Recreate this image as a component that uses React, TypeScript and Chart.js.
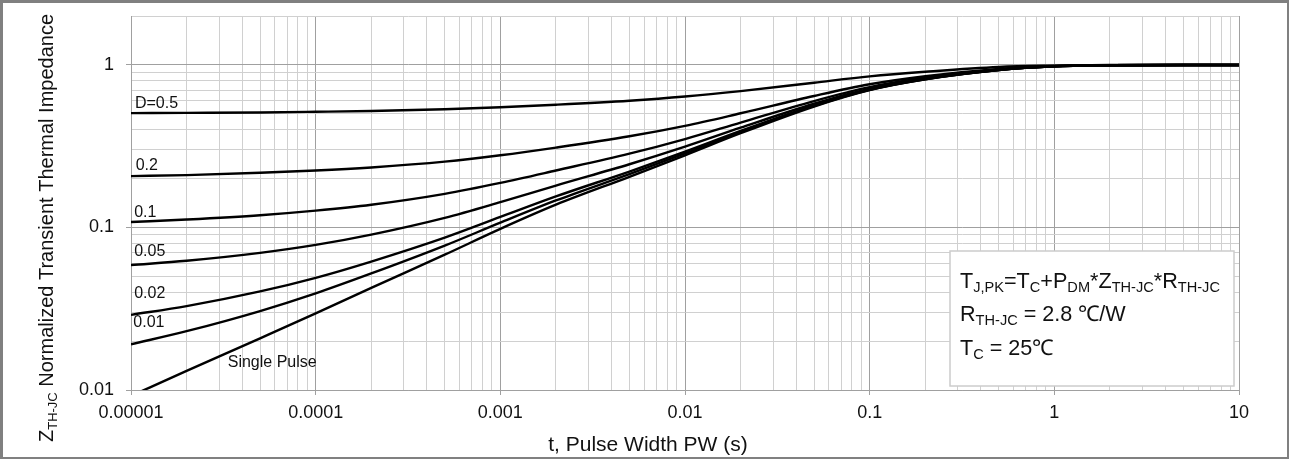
import React, { useEffect, useRef } from "react";
import { Chart, registerables } from "chart.js";

Chart.register(...registerables);

// ---- data ----
const pulseWidth = [1e-5, 2e-5, 5e-5, 1e-4, 2e-4, 5e-4, 1e-3, 2e-3, 5e-3, 1e-2, 2e-2, 5e-2, 0.1, 0.2, 0.5, 1, 2, 5, 10];
const zD050 = [0.505, 0.507, 0.51, 0.515, 0.521, 0.534, 0.549, 0.569, 0.6025, 0.639, 0.69, 0.7775, 0.85, 0.9075, 0.972, 0.99, 0.998, 1.0, 1.0];
const zD020 = [0.207, 0.21, 0.217, 0.224, 0.234, 0.254, 0.278, 0.31, 0.364, 0.422, 0.504, 0.644, 0.76, 0.852, 0.944, 0.984, 0.996, 1.0, 1.0];
const zD010 = [0.108, 0.112, 0.119, 0.127, 0.138, 0.161, 0.188, 0.224, 0.2845, 0.35, 0.442, 0.5995, 0.73, 0.8335, 0.937, 0.982, 0.996, 1.0, 1.0];
const zD005 = [0.0587, 0.0624, 0.0698, 0.0781, 0.0904, 0.1146, 0.1431, 0.1811, 0.2448, 0.3141, 0.411, 0.577, 0.715, 0.824, 0.934, 0.981, 0.995, 1.0, 1.0];
const zD002 = [0.029, 0.0328, 0.0404, 0.049, 0.0617, 0.0866, 0.116, 0.1552, 0.2209, 0.2924, 0.3924, 0.564, 0.706, 0.819, 0.931, 0.98, 0.995, 1.0, 1.0];
const zD001 = [0.0191, 0.023, 0.0306, 0.0393, 0.0521, 0.0773, 0.107, 0.1466, 0.213, 0.2852, 0.3862, 0.559, 0.703, 0.817, 0.93, 0.98, 0.995, 1.0, 1.0];
const zSingle = [0.0092, 0.0131, 0.0208, 0.0296, 0.0425, 0.068, 0.098, 0.138, 0.205, 0.278, 0.38, 0.555, 0.7, 0.815, 0.93, 0.98, 0.995, 1.0, 1.0];

const seriesValues = [zD050, zD020, zD010, zD005, zD002, zD001, zSingle];
const seriesLabels = ["D=0.5", "0.2", "0.1", "0.05", "0.02", "0.01", "Single Pulse"];
// label anchor points in data coordinates (t, Z)
const labelT = [1.05e-5, 1.06e-5, 1.04e-5, 1.04e-5, 1.04e-5, 1.03e-5, 3.34e-5];
const labelZ = [0.544, 0.226, 0.1165, 0.0668, 0.037, 0.0243, 0.0139];

const xTickValues = [1e-5, 1e-4, 1e-3, 1e-2, 0.1, 1, 10];
const xTickLabels = ["0.00001", "0.0001", "0.001", "0.01", "0.1", "1", "10"];
const yTickValues = [0.01, 0.1, 1];
const yTickLabels = ["0.01", "0.1", "1"];
const xMin = 1e-5;
const xMax = 10;
const yMin = 0.01;
const yMax = 2;

const xTitle = "t, Pulse Width PW (s)";
const yTitle: [string, boolean][] = [["Z", false], ["TH-JC", true], [" Normalized Transient Thermal Impedance", false]];
const noteLines: [string, boolean][][] = [
  [["T", false], ["J,PK", true], ["=T", false], ["C", true], ["+P", false], ["DM", true], ["*Z", false], ["TH-JC", true], ["*R", false], ["TH-JC", true]],
  [["R", false], ["TH-JC", true], [" = 2.8 \u2103/W", false]],
  [["T", false], ["C", true], [" = 25\u2103", false]],
];

const FONT = '"Liberation Sans", Arial, Helvetica, sans-serif';
const MAJOR = "#a0a0a0";
const MINOR = "#d0d0d0";

function logGridValues(min: number, max: number): number[] {
  const out: number[] = [];
  for (let e = Math.floor(Math.log10(min)); e <= Math.ceil(Math.log10(max)); e++) {
    for (let m = 1; m <= 9; m++) {
      const v = parseFloat((m * Math.pow(10, e)).toPrecision(6));
      if (v >= min * 0.999999 && v <= max * 1.000001) out.push(v);
    }
  }
  return out;
}

function findLabel(values: number[], labels: string[], v: number): string {
  for (let i = 0; i < values.length; i++) {
    if (Math.abs(Math.log10(values[i]) - Math.log10(v)) < 1e-6) return labels[i];
  }
  return "";
}

function isDecade(v: number): boolean {
  const l = Math.log10(v);
  return Math.abs(l - Math.round(l)) < 1e-6;
}

function drawRich(ctx: CanvasRenderingContext2D, segs: [string, boolean][], x: number, y: number, size: number, subSize: number, subDy: number, center = false) {
  const widths = segs.map(([t, sub]) => {
    ctx.font = `${sub ? subSize : size}px ${FONT}`;
    return ctx.measureText(t).width;
  });
  const total = widths.reduce((a, b) => a + b, 0);
  let cx = center ? x - total / 2 : x;
  segs.forEach(([t, sub], i) => {
    ctx.font = `${sub ? subSize : size}px ${FONT}`;
    ctx.fillText(t, cx, sub ? y + subDy : y);
    cx += widths[i];
  });
}

const textPlugin = {
  id: "textPlugin",
  afterDraw(chart: any) {
    const { ctx, chartArea, scales } = chart;
    ctx.save();
    ctx.fillStyle = "#111";
    ctx.textBaseline = "alphabetic";
    ctx.textAlign = "left";

    // curve labels
    ctx.font = `16px ${FONT}`;
    seriesLabels.forEach((s, i) => {
      ctx.fillText(s, scales.x.getPixelForValue(labelT[i]), scales.y.getPixelForValue(labelZ[i]));
    });

    // note box
    const bw = 284;
    const bh = 135;
    const bx = chartArea.right - 5 - bw;
    const by = chartArea.bottom - 4 - bh;
    ctx.fillStyle = "#ffffff";
    ctx.fillRect(bx, by, bw, bh);
    ctx.strokeStyle = "#cccccc";
    ctx.lineWidth = 1.5;
    ctx.strokeRect(bx, by, bw, bh);
    ctx.fillStyle = "#111";
    const baselines = [37, 70, 104];
    noteLines.forEach((line, i) => {
      drawRich(ctx, line, bx + 10, by + baselines[i], 21.6, 14.6, 4);
    });

    // x title
    ctx.fillStyle = "#111";
    drawRich(ctx, [[xTitle, false]], chart.width / 2 + 3, chart.height - 6, 21, 14, 4, true);

    // y title
    ctx.translate(50, chart.height / 2 - 2);
    ctx.rotate(-Math.PI / 2);
    drawRich(ctx, yTitle, 0, 0, 20, 13, 4, true);
    ctx.restore();
  },
};

const gridColor = (ctx: any) => {
  const v = ctx.tick ? ctx.tick.value : null;
  if (v == null) return MINOR;
  return isDecade(v) ? MAJOR : MINOR;
};
const tickColor = (ctx: any) => {
  const v = ctx.tick ? ctx.tick.value : null;
  if (v == null) return "transparent";
  return isDecade(v) ? MAJOR : "transparent";
};

export default function App() {
  const canvasRef = useRef<HTMLCanvasElement | null>(null);

  useEffect(() => {
    document.body.style.margin = "0";
    const canvas = canvasRef.current;
    if (!canvas) return;
    const xGrid = logGridValues(xMin, xMax);
    const yGrid = logGridValues(yMin, yMax);

    const chart = new Chart(canvas, {
      type: "line",
      data: {
        datasets: seriesValues.map((vals, i) => ({
          label: seriesLabels[i],
          data: pulseWidth.map((t, j) => ({ x: t, y: vals[j] })),
          borderColor: "#000000",
          borderWidth: 2.4,
          pointRadius: 0,
          fill: false,
          cubicInterpolationMode: "monotone" as const,
        })),
      },
      options: {
        animation: false,
        responsive: false,
        maintainAspectRatio: false,
        devicePixelRatio: 1,
        layout: { padding: { top: 13, right: 48, left: 0, bottom: 0 } },
        plugins: {
          legend: { display: false },
          tooltip: { enabled: false },
          title: { display: false },
        },
        scales: {
          x: {
            type: "logarithmic",
            min: xMin,
            max: xMax,
            afterBuildTicks: (axis: any) => {
              axis.ticks = xGrid.map((v) => ({ value: v }));
            },
            afterFit: (axis: any) => {
              axis.height = 67;
            },
            ticks: {
              autoSkip: false,
              maxRotation: 0,
              minRotation: 0,
              padding: 7,
              color: "#111",
              font: { family: FONT, size: 18 },
              callback: (value: any) => findLabel(xTickValues, xTickLabels, Number(value)),
            },
            grid: {
              color: gridColor,
              tickColor: tickColor,
              tickLength: 5,
              lineWidth: 1,
            },
            border: { display: true, color: MAJOR, width: 1 },
          },
          y: {
            type: "logarithmic",
            min: yMin,
            max: yMax,
            afterBuildTicks: (axis: any) => {
              axis.ticks = yGrid.map((v) => ({ value: v }));
            },
            afterFit: (axis: any) => {
              axis.width = 128;
              axis.paddingTop = 0;
              axis.paddingBottom = 0;
            },
            ticks: {
              autoSkip: false,
              padding: 12,
              color: "#111",
              font: { family: FONT, size: 18 },
              callback: (value: any) => findLabel(yTickValues, yTickLabels, Number(value)),
            },
            grid: {
              color: gridColor,
              tickColor: tickColor,
              tickLength: 5,
              lineWidth: 1,
            },
            border: { display: true, color: MAJOR, width: 1 },
          },
        },
      },
      plugins: [textPlugin],
    } as any);

    return () => {
      chart.destroy();
    };
  }, []);

  return (
    <div
      style={{
        position: "absolute",
        left: 0,
        top: 0,
        width: 1289,
        height: 459,
        boxSizing: "border-box",
        borderTop: "3px solid #808080",
        borderLeft: "3px solid #808080",
        borderRight: "2px solid #808080",
        borderBottom: "2px solid #808080",
        background: "#ffffff",
      }}
    >
      <canvas ref={canvasRef} width={1284} height={454} style={{ display: "block", width: 1284, height: 454 }} />
    </div>
  );
}
